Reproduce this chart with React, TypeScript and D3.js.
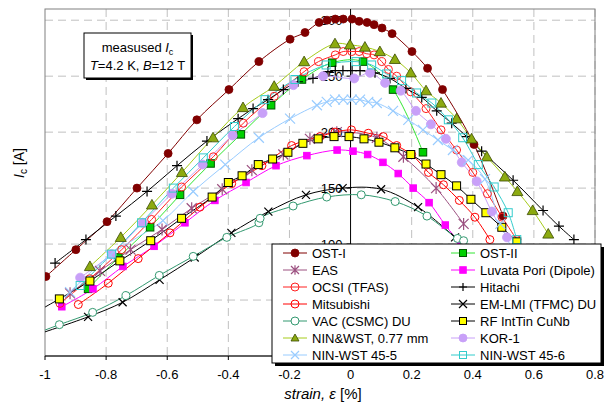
import React from "react";
import * as d3 from "d3";

const W = 607;
const H = 404;
const FONT = "'Liberation Sans', Arial, sans-serif";

const xTicks = [-1, -0.8, -0.6, -0.4, -0.2, 0, 0.2, 0.4, 0.6, 0.8];
const yTicks = [0, 50, 100, 150, 200, 250, 300];
// labels of 0 and 50 sit under the legend in the reference and are not visible
const yTickLabels = [100, 150, 200, 250, 300];

type P = [number, number];

const ostI: P[] = [[-0.997,71],[-0.899,95],[-0.797,120],[-0.699,150],[-0.597,181],[-0.503,211],[-0.398,238],[-0.3,263],[-0.198,283],[-0.149,289],[-0.103,298],[-0.077,300],[-0.05,301],[-0.024,301],[0.005,301],[0.028,299],[0.054,298],[0.077,296],[0.103,293],[0.136,288],[0.201,272],[0.252,257],[0.301,238],[0.404,189],[0.499,125]];
const ostII: P[] = [[-0.859,60],[-0.76,88],[-0.656,115],[-0.558,144],[-0.458,172],[-0.359,198],[-0.26,224],[-0.159,247],[-0.06,262],[0.041,263],[0.139,238],[0.237,182]];
const eas: P[] = [[-0.918,56],[-0.82,76],[-0.72,95],[-0.617,113],[-0.52,132],[-0.42,149],[-0.323,166],[-0.22,180],[-0.133,194],[-0.045,200],[0.086,195],[0.173,178],[0.28,150],[0.37,118]];
const luvata: P[] = [[-0.945,44],[-0.843,60],[-0.745,80],[-0.643,98],[-0.542,119],[-0.444,139],[-0.342,155],[-0.244,170],[-0.143,179],[-0.044,184],[0.008,183],[0.056,180],[0.106,173],[0.156,163],[0.205,150],[0.257,137],[0.31,117],[0.36,100]];
const ocsi: P[] = [[-0.951,47],[-0.853,69],[-0.749,95],[-0.651,122],[-0.553,151],[-0.449,178],[-0.351,208],[-0.25,232],[-0.152,254],[-0.105,263],[-0.05,269],[-0.024,272],[0.004,272],[0.028,272],[0.053,270],[0.077,269],[0.102,263],[0.124,256],[0.151,250],[0.197,236],[0.247,221],[0.296,202],[0.347,184],[0.4,164],[0.448,145],[0.496,124],[0.544,104]];
const hitachi: P[] = [[-0.967,83],[-0.866,104],[-0.768,125],[-0.666,147],[-0.568,170],[-0.47,192],[-0.368,212],[-0.319,221],[-0.27,229],[-0.22,238],[-0.172,245],[-0.123,248],[-0.074,254],[-0.05,255],[-0.025,255],[0.005,255],[0.031,255],[0.08,253],[0.129,248],[0.181,239],[0.233,231],[0.282,219],[0.331,208],[0.38,196],[0.429,183],[0.532,157],[0.63,130],[0.682,116],[0.731,104]];
const mitsubishi: P[] = [[-0.891,46],[-0.793,65],[-0.695,87],[-0.591,110],[-0.493,133],[-0.389,154],[-0.29,170],[-0.193,188],[-0.1,196],[-0.051,200],[0.003,202],[0.058,199],[0.107,196],[0.151,188],[0.2,180],[0.255,164],[0.304,153],[0.356,139],[0.407,124],[0.456,104]];
const emLmi: P[] = [[-1.05,17],[-0.859,35],[-0.746,48],[-0.625,68],[-0.51,88],[-0.39,110],[-0.269,129],[-0.146,144],[-0.026,150],[0.1,149],[0.221,133],[0.342,106]];
const vac: P[] = [[-1.05,18],[-0.953,28],[-0.844,39],[-0.735,54],[-0.626,72],[-0.515,89],[-0.405,106],[-0.3,119],[-0.296,123],[-0.188,134],[-0.078,142],[0.035,144],[0.146,138],[0.25,125],[0.35,105],[0.37,103]];
const rf: P[] = [[-1.05,36],[-0.953,51],[-0.853,67],[-0.755,85],[-0.654,103],[-0.553,123],[-0.453,142],[-0.4,155],[-0.355,161],[-0.302,171],[-0.255,176],[-0.205,182],[-0.156,190],[-0.106,194],[-0.054,196],[-0.005,196],[0.044,194],[0.093,191],[0.145,186],[0.197,180],[0.247,171.5],[0.296,162],[0.347,152],[0.394,140],[0.443,128],[0.495,115],[0.544,102]];
const ninWst077: P[] = [[-0.853,80],[-0.752,106],[-0.65,135],[-0.552,164],[-0.45,195],[-0.352,222],[-0.25,241],[-0.152,263],[-0.051,279],[-0.002,278],[0.047,276],[0.096,272],[0.145,265],[0.197,253],[0.247,237],[0.296,226],[0.347,212],[0.396,194],[0.446,178],[0.505,160],[0.546,147],[0.596,130],[0.647,109]];
const kor1: P[] = [[-0.885,70],[-0.782,91],[-0.68,119],[-0.585,145],[-0.484,171],[-0.386,197],[-0.288,217],[-0.187,242],[-0.09,250],[0.012,248],[0.064,253],[0.113,244],[0.164,237],[0.214,219],[0.263,207],[0.312,194],[0.364,173],[0.413,156],[0.462,129],[0.512,106]];
const ninWst455: P[] = [[-0.918,57],[-0.787,90],[-0.614,121],[-0.515,147],[-0.41,171],[-0.3,195],[-0.198,212],[-0.11,224],[-0.078,227],[-0.051,229],[-0.024,229],[0.004,229],[0.031,229],[0.058,227],[0.086,226],[0.139,219],[0.189,211],[0.237,202],[0.286,193],[0.335,184],[0.385,175],[0.44,158],[0.49,118],[0.53,95]];
const ninWst456: P[] = [[-0.885,63],[-0.782,91],[-0.684,119],[-0.58,150],[-0.482,177],[-0.38,205],[-0.28,229],[-0.182,247],[-0.08,260],[0.018,263],[0.069,260],[0.118,252],[0.167,246],[0.216,235],[0.266,226],[0.32,211],[0.367,195],[0.418,171],[0.47,151],[0.516,128],[0.544,104]];

type Marker = "dot" | "square" | "asterisk" | "ring" | "plus" | "cross" | "triangle";
interface Series { name: string; data: P[]; line: string; marker: Marker; fill: string; stroke: string; size: number; }

const series: Series[] = [
  { name: "OST-I", data: ostI, line: "#800000", marker: "dot", fill: "#800000", stroke: "#800000", size: 4 },
  { name: "OST-II", data: ostII, line: "#33E633", marker: "square", fill: "#00D000", stroke: "#005500", size: 7.5 },
  { name: "EAS", data: eas, line: "#9C5080", marker: "asterisk", fill: "none", stroke: "#9C5080", size: 5 },
  { name: "Luvata Pori (Dipole)", data: luvata, line: "#FF00FF", marker: "square", fill: "#FF00FF", stroke: "#FF00FF", size: 6.5 },
  { name: "OCSI (TFAS)", data: ocsi, line: "#FF2020", marker: "ring", fill: "none", stroke: "#FF2020", size: 4 },
  { name: "Hitachi", data: hitachi, line: "#000000", marker: "plus", fill: "none", stroke: "#000000", size: 5 },
  { name: "Mitsubishi", data: mitsubishi, line: "#FF0000", marker: "ring", fill: "none", stroke: "#FF0000", size: 4 },
  { name: "EM-LMI (TFMC) DU", data: emLmi, line: "#000000", marker: "cross", fill: "none", stroke: "#000000", size: 4 },
  { name: "VAC (CSMC) DU", data: vac, line: "#339970", marker: "ring", fill: "#FFFFFF", stroke: "#339970", size: 4 },
  { name: "RF IntTin CuNb", data: rf, line: "#000000", marker: "square", fill: "#FFFF00", stroke: "#000000", size: 8 },
  { name: "NIN&WST, 0.77 mm", data: ninWst077, line: "#A6CC1A", marker: "triangle", fill: "#8CAA10", stroke: "#3A4A00", size: 5.5 },
  { name: "KOR-1", data: kor1, line: "#C8A0F8", marker: "dot", fill: "#C8A0F8", stroke: "#C8A0F8", size: 4.5 },
  { name: "NIN-WST 45-5", data: ninWst455, line: "#99CCFF", marker: "cross", fill: "none", stroke: "#99CCFF", size: 5 },
  { name: "NIN-WST 45-6", data: ninWst456, line: "#33CCCC", marker: "square", fill: "none", stroke: "#33CCCC", size: 8 },
];

const L = 45, R = 595, T = 9, B = 356;
const x = d3.scaleLinear().domain([-1, 0.8]).range([L, R]);
const y = d3.scaleLinear().domain([0, 310]).range([B, T]);

function MarkerShape({ s, cx, cy }: { s: Series; cx: number; cy: number }) {
  const r = s.size;
  switch (s.marker) {
    case "dot":
      return <circle cx={cx} cy={cy} r={r} fill={s.fill} stroke={s.stroke} strokeWidth={0.8} />;
    case "ring":
      return <circle cx={cx} cy={cy} r={r} fill={s.fill} stroke={s.stroke} strokeWidth={1} />;
    case "square":
      return <rect x={cx - r / 2} y={cy - r / 2} width={r} height={r} fill={s.fill} stroke={s.stroke} strokeWidth={1} />;
    case "triangle":
      return <path d={`M${cx},${cy - r}L${cx + r},${cy + r * 0.75}L${cx - r},${cy + r * 0.75}Z`} fill={s.fill} stroke={s.stroke} strokeWidth={0.8} />;
    case "plus":
      return <path d={`M${cx - r},${cy}H${cx + r}M${cx},${cy - r}V${cy + r}`} stroke={s.stroke} strokeWidth={1.2} />;
    case "cross":
      return <path d={`M${cx - r},${cy - r}L${cx + r},${cy + r}M${cx - r},${cy + r}L${cx + r},${cy - r}`} stroke={s.stroke} strokeWidth={1.2} />;
    case "asterisk":
      return <path d={`M${cx - r},${cy - r}L${cx + r},${cy + r}M${cx - r},${cy + r}L${cx + r},${cy - r}M${cx},${cy - r * 1.2}V${cy + r * 1.2}`} stroke={s.stroke} strokeWidth={1.2} />;
  }
  return null;
}

export default function App() {
  const line = d3.line<P>().x(d => x(d[0])).y(d => y(d[1])).curve(d3.curveCatmullRom.alpha(0.5));
  const gridX = xTicks.filter(v => v !== 0 && v > -1);
  const gridY = yTicks.filter(v => v > 0);
  const legX = 272, legY = 244, legW = 329, legH = 119;
  const rowH = 17;
  return (
    <svg width={W} height={H} style={{ position: "absolute", left: 0, top: 0, fontFamily: FONT }}>
      <rect x={0} y={0} width={W} height={H} fill="#fff" />
      <defs>
        <clipPath id="plot"><rect x={L} y={T} width={R - L} height={B - T} /></clipPath>
      </defs>
      {gridX.map(v => (
        <line key={"gx" + v} x1={x(v)} x2={x(v)} y1={T} y2={B} stroke="#C0C0C0" strokeDasharray="8,5" />
      ))}
      {gridY.map(v => (
        <line key={"gy" + v} x1={L} x2={R} y1={y(v)} y2={y(v)} stroke="#C0C0C0" strokeDasharray="8,5" />
      ))}
      <rect x={L} y={T} width={R - L} height={B - T} fill="none" stroke="#808080" />
      <line x1={L} x2={R} y1={B} y2={B} stroke="#000" />
      {xTicks.map(v => (
        <line key={"xt" + v} x1={x(v)} x2={x(v)} y1={B} y2={B + 4} stroke="#000" />
      ))}
      <line x1={x(0)} x2={x(0)} y1={T} y2={B} stroke="#000" />
      {yTicks.map(v => (
        <line key={"ytm" + v} x1={x(0) - 4} x2={x(0)} y1={y(v)} y2={y(v)} stroke="#000" />
      ))}
      {yTickLabels.map(v => (
        <text key={"yt" + v} x={x(0) - 8} y={y(v)} dy="0.35em" textAnchor="end" fontSize={13}>{v}</text>
      ))}
      {xTicks.map(v => (
        <text key={"xl" + v} x={x(v)} y={B + 23} textAnchor="middle" fontSize={13}>{v}</text>
      ))}
      <g clipPath="url(#plot)">
        {series.map(s => (
          <path key={s.name} d={line(s.data) || ""} fill="none" stroke={s.line} strokeWidth={1} />
        ))}
        {series.map(s => (
          <g key={s.name + "m"}>
            {s.data.map((d, i) => <MarkerShape key={i} s={s} cx={x(d[0])} cy={y(d[1])} />)}
          </g>
        ))}
      </g>
      <text transform={`translate(24,163) rotate(-90)`} textAnchor="middle" fontSize={14}>
        <tspan fontStyle="italic">I</tspan><tspan fontSize={10} dy={3}>c</tspan><tspan dy={-3}> [A]</tspan>
      </text>
      <text x={323} y={399} textAnchor="middle" fontSize={15}>
        <tspan fontStyle="italic">strain, ε</tspan><tspan> [%]</tspan>
      </text>
      <rect x={86} y={35} width={107} height={45} fill="#000" />
      <rect x={84} y={33} width={107} height={45} fill="#fff" stroke="#000" />
      <text x={137.5} y={52} textAnchor="middle" fontSize={13}>
        measused <tspan fontStyle="italic">I</tspan><tspan fontSize={9} dy={3}>c</tspan>
      </text>
      <text x={137.5} y={70} textAnchor="middle" fontSize={13}>
        <tspan fontStyle="italic">T</tspan>=4.2 K, <tspan fontStyle="italic">B</tspan>=12 T
      </text>
      <rect x={legX + 3} y={legY + 3} width={legW} height={legH} fill="#000" />
      <rect x={legX} y={legY} width={legW} height={legH} fill="#fff" stroke="#000" />
      {series.map((s, i) => {
        const col = i % 2;
        const row = Math.floor(i / 2);
        const mx = col === 0 ? 295 : 463;
        const ty = legY + 9 + row * rowH;
        return (
          <g key={"lg" + s.name}>
            <line x1={mx - 12} x2={mx + 12} y1={ty} y2={ty} stroke={s.line} />
            <MarkerShape s={{ ...s, size: s.marker === "square" ? Math.min(s.size, 7) : Math.min(s.size, 4) }} cx={mx} cy={ty} />
            <text x={mx + 17} y={ty} dy="0.35em" fontSize={13}>{s.name}</text>
          </g>
        );
      })}
    </svg>
  );
}
